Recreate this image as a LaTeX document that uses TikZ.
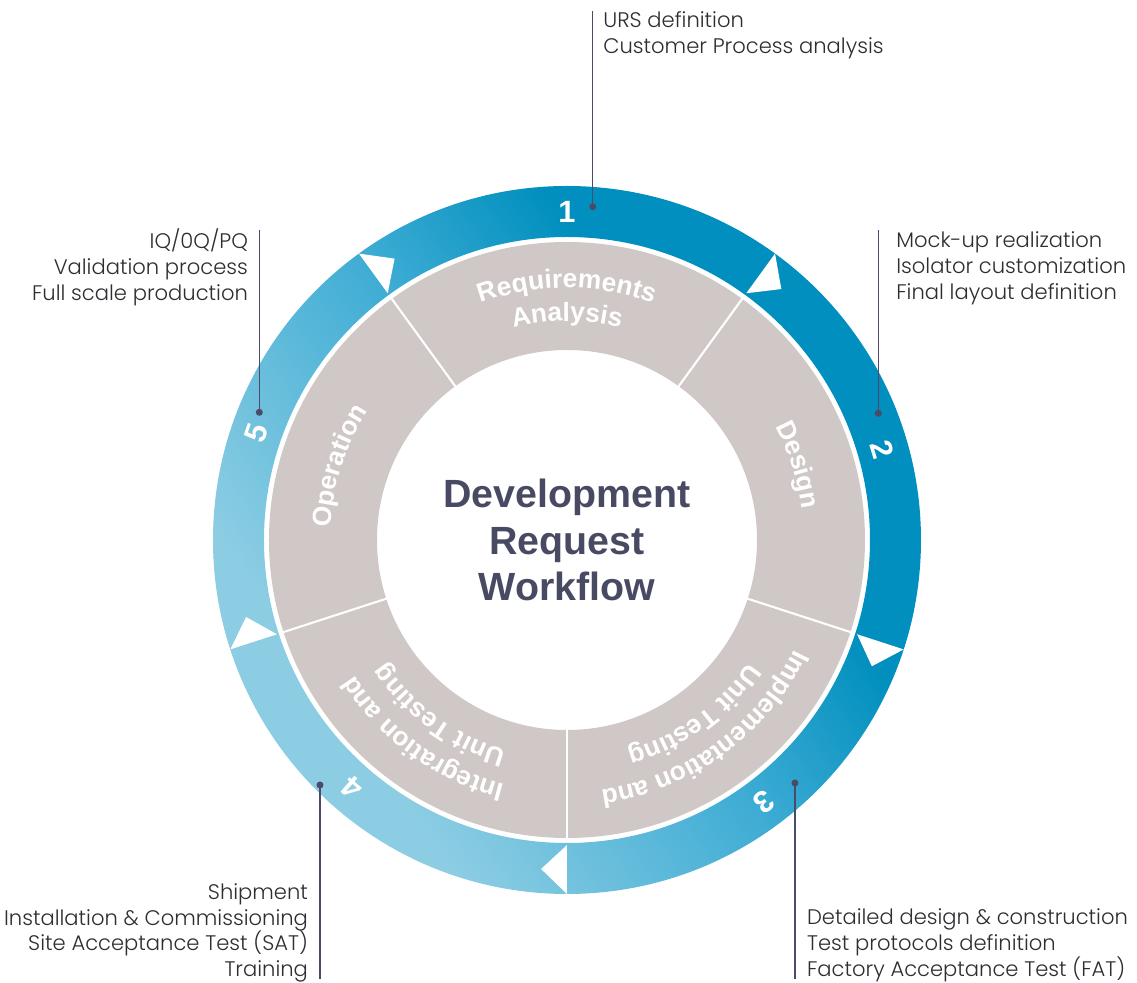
\documentclass[tikz,border=0pt]{standalone}
\usepackage{fontspec}
\setmainfont{Liberation Sans}
\newfontfamily\calloutfont{Poppins}[UprightFont=* Light]
\usetikzlibrary{decorations.text}
\definecolor{ringdark}{RGB}{0,143,190}
\definecolor{ringmid}{RGB}{62,172,212}
\definecolor{ringlight}{RGB}{140,205,227}
\definecolor{stepgray}{RGB}{207,200,199}
\definecolor{slate}{RGB}{75,75,105}
\definecolor{titleslate}{RGB}{72,74,100}
\definecolor{callouttext}{RGB}{45,45,50}
\pgfdeclarehorizontalshading{ringshade}{100bp}{color(0bp)=(ringlight); color(30bp)=(ringlight); color(50bp)=(ringmid); color(63bp)=(ringdark); color(100bp)=(ringdark)}
\tikzset{
  callout/.style={font=\calloutfont\fontsize{12}{14.74}\selectfont, text=callouttext, inner sep=0pt},
  leader/.style={draw=slate, line width=0.8pt},
  divider/.style={draw=white, line width=1.2pt},
  stepnum/.style={font=\bfseries\fontsize{17.5}{17.5}\selectfont, text=white, inner sep=0pt},
  steptext/.style={decorate, decoration={text along path, text align=center, text color=white,
    text={|\bfseries\fontsize{15}{15}\selectfont|#1}}},
  title/.style={font=\bfseries\fontsize{22.4}{26.6}\selectfont, text=titleslate, align=center, inner sep=0pt}
}
\begin{document}
\begin{tikzpicture}[x=0.02cm, y=0.02cm]
  \useasboundingbox (-567,-443) rectangle (570,540);
  % outer ring
  \path[shading=ringshade, shading angle=35, even odd rule]
    (0,0) circle (354) (0,0) circle (303);
  \fill[white] (126:305) -- (126:354) -- (121.5:330) -- cycle;
  \fill[white] (54:305) -- (54:354) -- (49.5:330) -- cycle;
  \fill[white] (-18:305) -- (-18:354) -- (-22.5:330) -- cycle;
  \fill[white] (-90:305) -- (-90:354) -- (-94.5:330) -- cycle;
  \fill[white] (198:305) -- (198:354) -- (193.5:330) -- cycle;
  \node[stepnum] (n1) at (90:328) {1};
  \node[stepnum, rotate=-73] (n2) at (16:328) {2};
  \node[stepnum, rotate=-143] (n3) at (-53:328) {3};
  \node[stepnum, rotate=139] (n4) at (-131:328) {4};
  \node[stepnum, rotate=71] (n5) at (161:328) {5};
  % inner ring
  \fill[stepgray, even odd rule] (0,0) circle (298) (0,0) circle (190);
  \draw[divider] (126:189) -- (126:299);
  \draw[divider] (54:189) -- (54:299);
  \draw[divider] (-18:189) -- (-18:299);
  \draw[divider] (-90:189) -- (-90:299);
  \draw[divider] (198:189) -- (198:299);
  \path[steptext=Requirements] (126:252) arc[start angle=126, end angle=54, radius=252];
  \path[steptext=Analysis] (126:219) arc[start angle=126, end angle=54, radius=219];
  \path[steptext=Design] (54:237) arc[start angle=54, end angle=-18, radius=237];
  \path[steptext=Implementation and] (-18:252) arc[start angle=-18, end angle=-90, radius=252];
  \path[steptext=Unit Testing] (-18:219) arc[start angle=-18, end angle=-90, radius=219];
  \path[steptext=Integration and] (-90:252) arc[start angle=-90, end angle=-162, radius=252];
  \path[steptext=Unit Testing] (-90:219) arc[start angle=-90, end angle=-162, radius=219];
  \path[steptext=Operation] (198:237) arc[start angle=198, end angle=126, radius=237];
  \node[title] (title) at (0,0) {Development\\Request\\Workflow};
  % callouts
  \coordinate (d1) at (25.7,333.3);
  \coordinate (e1) at (25.7,529);
  \coordinate (d2) at (311.3,126.7);
  \coordinate (e2) at (311.3,310);
  \coordinate (d3) at (228,-243);
  \coordinate (e3) at (228,-439);
  \coordinate (d4) at (-247,-245);
  \coordinate (e4) at (-247,-439);
  \coordinate (d5) at (-307.7,127.7);
  \coordinate (e5) at (-307.7,310);
  \node[callout, anchor=north west, align=left] (t1) at (36,528.5)
    {URS definition\\Customer Process analysis};
  \node[callout, anchor=north west, align=left] (t2) at (329,308.5)
    {Mock-up realization\\Isolator customization\\Final layout definition};
  \node[callout, anchor=north west, align=left] (t3) at (239.7,-368.5)
    {Detailed design \& construction\\Test protocols definition\\Factory Acceptance Test (FAT)};
  \node[callout, anchor=north east, align=right] (t4) at (-258.7,-343)
    {Shipment\\Installation \& Commissioning\\Site Acceptance Test (SAT)\\Training};
  \node[callout, anchor=north east, align=right] (t5) at (-318.7,311.5)
    {IQ/0Q/PQ\\Validation process\\Full scale production};
  \begin{scope}[leader]
    \draw (d1) -- (e1);
    \draw (d2) -- (e2);
    \draw (d3) -- (e3);
    \draw (d4) -- (e4);
    \draw (d5) -- (e5);
  \end{scope}
  \fill[slate] (d1) circle (3.5);
  \fill[slate] (d2) circle (3.5);
  \fill[slate] (d3) circle (3.5);
  \fill[slate] (d4) circle (3.5);
  \fill[slate] (d5) circle (3.5);
\end{tikzpicture}
\end{document}
